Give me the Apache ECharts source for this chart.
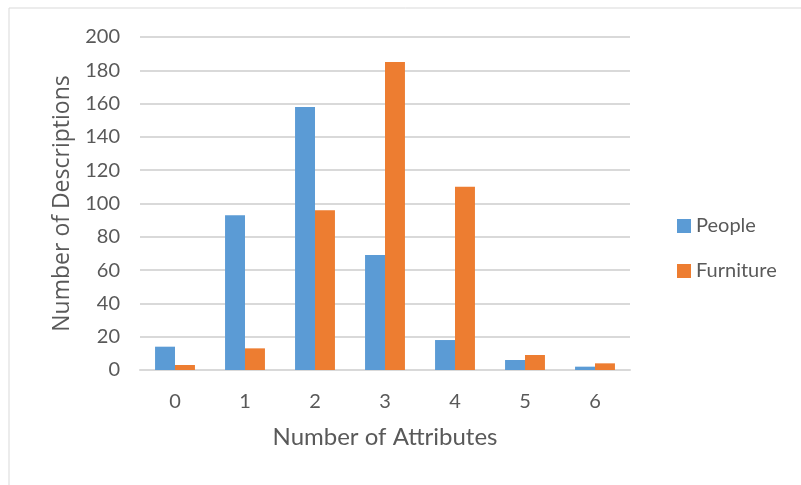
<!DOCTYPE html>
<html>
<head>
<meta charset="utf-8">
<script src="https://cdn.jsdelivr.net/npm/echarts@6/dist/echarts.min.js"></script>
<style>
  html, body { margin: 0; padding: 0; background: #fff; }
  #chart { width: 801px; height: 485px; }
</style>
</head>
<body>
<div id="chart"></div>
<script>
// Number of attributes per description
const categories = ['0', '1', '2', '3', '4', '5', '6'];
const peopleValues = [14, 93, 158, 69, 18, 6, 2];
const furnitureValues = [3, 13, 96, 185, 110, 9, 4];
const yTicks = [0, 20, 40, 60, 80, 100, 120, 140, 160, 180, 200];

const textColor = '#595959';
const fontFamily = 'Lato, "Liberation Sans", sans-serif';

const chart = echarts.init(document.getElementById('chart'));
chart.setOption({
  animation: false,
  backgroundColor: '#fff',
  textStyle: { fontFamily: fontFamily, color: textColor },
  graphic: [{
    type: 'rect',
    shape: { x: 9, y: 8, width: 820, height: 500 },
    style: { fill: 'none', stroke: '#d9d9d9', lineWidth: 1 },
    silent: true
  }],
  grid: { left: 140, right: 171, top: 37, bottom: 115 },
  legend: {
    orient: 'vertical',
    left: 672,
    top: 211,
    itemWidth: 14,
    itemHeight: 14,
    itemGap: 25,
    icon: 'rect',
    textStyle: { fontSize: 20, color: textColor, fontFamily: fontFamily },
    data: ['People', 'Furniture']
  },
  xAxis: {
    type: 'category',
    data: categories,
    name: 'Number of Attributes',
    nameLocation: 'middle',
    nameGap: 55,
    nameTextStyle: { fontSize: 24, color: textColor, fontFamily: fontFamily },
    axisLine: { show: true, lineStyle: { color: '#d9d9d9', width: 2 } },
    axisTick: { show: false },
    axisLabel: { fontSize: 20, color: textColor, margin: 22, fontFamily: fontFamily }
  },
  yAxis: {
    type: 'value',
    min: yTicks[0],
    max: yTicks[yTicks.length - 1],
    interval: 20,
    name: 'Number of Descriptions',
    nameLocation: 'middle',
    nameGap: 64,
    nameTextStyle: { fontSize: 23, color: textColor, fontFamily: '"Open Sans", sans-serif' },
    axisLine: { show: false },
    axisTick: { show: false },
    axisLabel: { fontSize: 20, color: textColor, margin: 20, fontFamily: fontFamily },
    splitLine: { lineStyle: { color: '#d9d9d9', width: 2 } }
  },
  series: [
    {
      name: 'People',
      type: 'bar',
      data: peopleValues,
      itemStyle: { color: '#5b9bd5' },
      barGap: '0%',
      barCategoryGap: '43%'
    },
    {
      name: 'Furniture',
      type: 'bar',
      data: furnitureValues,
      itemStyle: { color: '#ed7d31' },
      barGap: '0%',
      barCategoryGap: '43%'
    }
  ]
});
</script>
</body>
</html>
